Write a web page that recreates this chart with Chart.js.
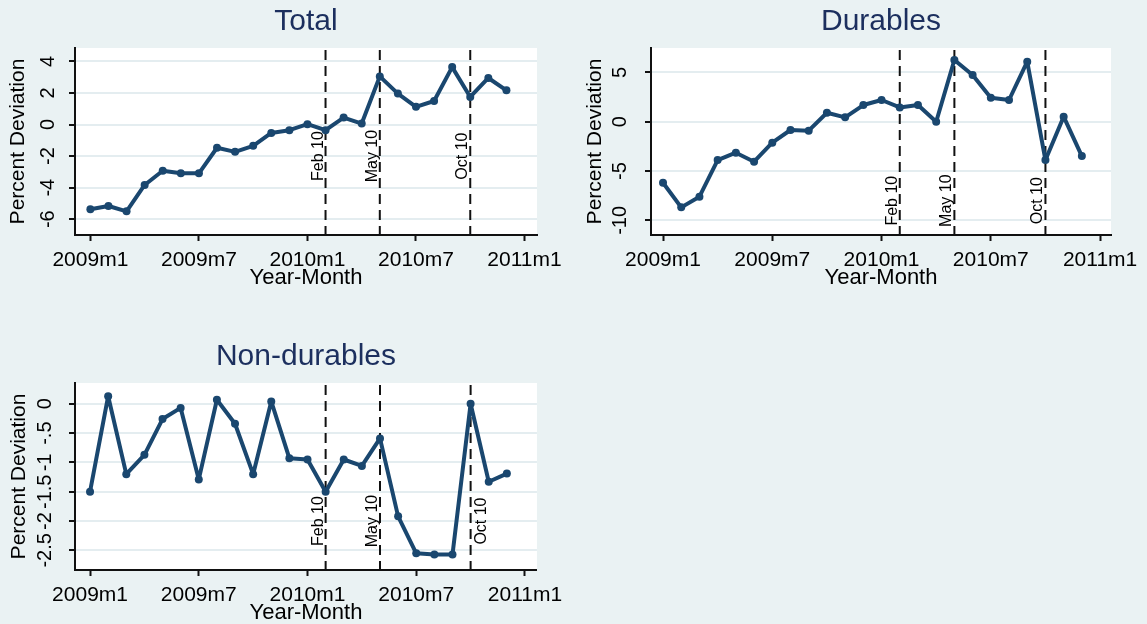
<!DOCTYPE html>
<html lang="en">
<head>
  <meta charset="UTF-8">
  <title>Percent Deviation by Year-Month</title>
  <script src="https://cdn.jsdelivr.net/npm/chart.js"></script>
  <style>
    body {
      margin: 0;
      background: #eaf2f3;
      overflow: hidden;
      font-family: "Liberation Sans", Arial, sans-serif;
    }
    canvas {
      position: absolute;
    }
  </style>
</head>
<body>
  <canvas id="totalChart" width="570" height="300" style="left:0;top:0"></canvas>
  <canvas id="durChart" width="577" height="300" style="left:570px;top:0"></canvas>
  <canvas id="nonDurChart" width="570" height="295" style="left:0;top:335px"></canvas>

  <script>
    // months since 2009m1
    const monthIdx = [0, 1, 2, 3, 4, 5, 6, 7, 8, 9, 10, 11, 12, 13, 14, 15, 16, 17, 18, 19, 20, 21, 22, 23];
    const xTickPos = [0, 6, 12, 18, 24];
    const xTickLabels = ['2009m1', '2009m7', '2010m1', '2010m7', '2011m1'];

    const totalVals = [-5.37, -5.16, -5.5, -3.83, -2.93, -3.09, -3.09, -1.47, -1.73, -1.35, -0.53, -0.36,
                       0.02, -0.36, 0.44, 0.06, 3.05, 1.96, 1.12, 1.49, 3.64, 1.75, 2.95, 2.17];
    const durVals = [-6.18, -8.68, -7.6, -3.89, -3.14, -4.05, -2.13, -0.84, -0.91, 0.91, 0.44, 1.69,
                     2.2, 1.45, 1.69, 0.0, 6.25, 4.73, 2.43, 2.2, 6.08, -3.89, 0.51, -3.48];
    const nonDurVals = [-1.5, 0.13, -1.2, -0.87, -0.26, -0.07, -1.29, 0.07, -0.34, -1.2, 0.04, -0.93,
                        -0.95, -1.5, -0.95, -1.06, -0.59, -1.92, -2.55, -2.57, -2.57, 0.0, -1.33, -1.19];

    const totalTicks = [-6, -4, -2, 0, 2, 4];
    const totalTickLabels = ['-6', '-4', '-2', '0', '2', '4'];
    const durTicks = [-10, -5, 0, 5];
    const durTickLabels = ['-10', '-5', '0', '5'];
    const nonDurTicks = [-2.5, -2, -1.5, -1, -0.5, 0];
    const nonDurTickLabels = ['-2.5', '-2', '-1.5', '-1', '-.5', '0'];

    const eventMonths = [13, 16, 21];
    const eventLabels = ['Feb 10', 'May 10', 'Oct 10'];

    const navy = '#1a476f';
    const FONT = '"Liberation Sans", Arial, sans-serif';
    Chart.defaults.font.family = FONT;
    Chart.defaults.color = '#000';

    const plotBg = {
      id: 'plotBg',
      beforeDraw(chart) {
        const a = chart.chartArea, ctx = chart.ctx;
        ctx.save();
        ctx.fillStyle = '#fff';
        ctx.fillRect(a.left, a.top, a.right - a.left, a.bottom - a.top);
        ctx.restore();
      }
    };

    const eventLines = {
      id: 'eventLines',
      beforeDatasetsDraw(chart, args, opts) {
        const a = chart.chartArea, ctx = chart.ctx;
        const xs = chart.scales.x, ys = chart.scales.y;
        ctx.save();
        eventMonths.forEach((m, i) => {
          const x = xs.getPixelForValue(m);
          ctx.strokeStyle = '#111';
          ctx.lineWidth = 2;
          ctx.setLineDash([10, 6]);
          ctx.beginPath();
          ctx.moveTo(x, a.top + 2);
          ctx.lineTo(x, a.bottom);
          ctx.stroke();

          const side = opts.sides[i];
          ctx.save();
          ctx.translate(side === 'left' ? x - 3 : x + 3, ys.getPixelForValue(opts.labelY));
          ctx.rotate(-Math.PI / 2);
          ctx.font = '16px ' + FONT;
          ctx.fillStyle = '#000';
          ctx.textAlign = 'center';
          ctx.textBaseline = side === 'left' ? 'alphabetic' : 'top';
          ctx.fillText(eventLabels[i], 0, 0);
          ctx.restore();
        });
        ctx.restore();
      }
    };

    function makePanel(id, title, vals, yTicks, yTickLabels, p) {
      const points = monthIdx.map((m, i) => ({ x: m, y: vals[i] }));
      return new Chart(document.getElementById(id), {
        type: 'line',
        data: {
          datasets: [{
            data: points,
            borderColor: navy,
            backgroundColor: navy,
            borderWidth: 4,
            borderJoinStyle: 'round',
            borderCapStyle: 'round',
            pointRadius: 4,
            pointBorderWidth: 0,
            tension: 0
          }]
        },
        plugins: [plotBg, eventLines],
        options: {
          responsive: false,
          animation: false,
          layout: { padding: p.pad },
          plugins: {
            legend: { display: false },
            tooltip: { enabled: false },
            title: {
              display: true,
              text: title,
              fullSize: false,
              color: '#1c2f5e',
              font: { size: 30, weight: 'normal' },
              padding: { top: 4, bottom: 8 }
            },
            eventLines: { labelY: p.labelY, sides: p.sides }
          },
          scales: {
            x: {
              type: 'linear',
              min: p.xMin,
              max: p.xMax,
              afterBuildTicks: s => { s.ticks = xTickPos.map(v => ({ value: v })); },
              afterFit: s => { s.height = 60; },
              ticks: {
                autoSkip: false,
                maxRotation: 0,
                padding: 7,
                font: { size: 21 },
                color: '#000',
                callback: (v) => xTickLabels[xTickPos.indexOf(v)]
              },
              grid: { drawOnChartArea: false, drawTicks: true, tickLength: 6, tickColor: '#111', tickWidth: 2 },
              border: { display: true, color: '#111', width: 2 },
              title: { display: true, text: 'Year-Month', font: { size: 22 }, color: '#000', padding: { top: 0, bottom: 4 } }
            },
            y: {
              min: p.yMin,
              max: p.yMax,
              afterBuildTicks: s => { s.ticks = yTicks.map(v => ({ value: v })); },
              afterFit: s => { s.width = p.yWidth; },
              ticks: {
                autoSkip: false,
                minRotation: 90,
                maxRotation: 90,
                crossAlign: 'center',
                padding: p.tickPad,
                font: { size: 20 },
                color: '#000',
                callback: (v) => yTickLabels[yTicks.indexOf(v)]
              },
              grid: { color: '#e4edf0', lineWidth: 2, drawTicks: true, tickLength: 6, tickColor: '#111', tickWidth: 2 },
              border: { display: true, color: '#111', width: 2 },
              title: { display: true, text: 'Percent Deviation', font: { size: 21 }, color: '#000', padding: { top: p.titlePad, bottom: 0 } }
            }
          }
        }
      });
    }

    makePanel('totalChart', 'Total', totalVals, totalTicks, totalTickLabels, {
      pad: { left: 0, right: 33, top: 0, bottom: 5 },
      xMin: -0.85, xMax: 24.69, yMin: -7, yMax: 4.85,
      yWidth: 75, tickPad: 12, titlePad: 6, labelY: -2, sides: ['left', 'left', 'left']
    });

    makePanel('durChart', 'Durables', durVals, durTicks, durTickLabels, {
      pad: { left: 0, right: 36, top: 0, bottom: 5 },
      xMin: -0.66, xMax: 24.6, yMin: -11.48, yMax: 7.47,
      yWidth: 81, tickPad: 10, titlePad: 13, labelY: -8, sides: ['left', 'left', 'left']
    });

    makePanel('nonDurChart', 'Non-durables', nonDurVals, nonDurTicks, nonDurTickLabels, {
      pad: { left: 0, right: 33, top: 0, bottom: 0 },
      xMin: -0.83, xMax: 24.66, yMin: -2.835, yMax: 0.355,
      yWidth: 75, tickPad: 6, titlePad: 7, labelY: -2, sides: ['left', 'left', 'right']
    });
  </script>
</body>
</html>
